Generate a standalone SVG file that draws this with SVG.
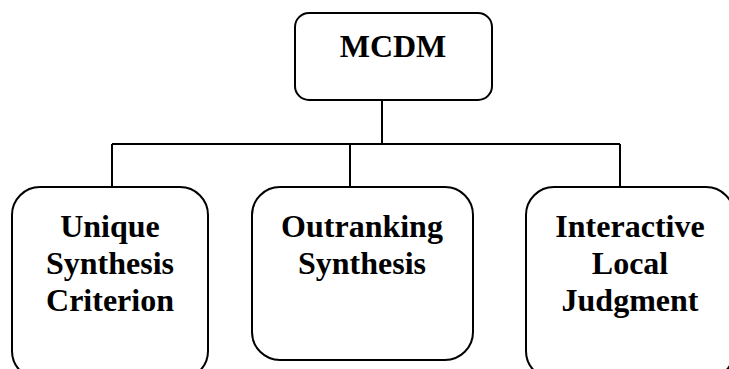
<svg xmlns="http://www.w3.org/2000/svg" width="729" height="369" viewBox="0 0 729 369">
<style>
.box{fill:#fff;stroke:#000;stroke-width:2}
.lbl{font-family:"Liberation Serif","Times New Roman",serif;font-weight:bold;font-size:32px;fill:#000;text-anchor:middle}
.conn{fill:none;stroke:#000;stroke-width:2}
</style>
<rect width="729" height="369" fill="#fff"/>
<g id="connectors">
<path class="conn" d="M382,100V144M112,144H620M112,144V187M350,144V187M620,144V187"/>
</g>
<g id="mcdm">
<rect class="box" x="295" y="13" width="197" height="87" rx="14"/>
<text class="lbl" x="393" y="57" font-size="28">MCDM</text>
</g>
<g id="unique">
<rect class="box" x="12" y="187" width="196" height="192" rx="28"/>
<text class="lbl" x="110" y="237">Unique</text>
<text class="lbl" x="110" y="274">Synthesis</text>
<text class="lbl" x="110" y="311">Criterion</text>
</g>
<g id="outranking">
<rect class="box" x="252" y="187" width="221" height="173" rx="28"/>
<text class="lbl" x="362" y="237">Outranking</text>
<text class="lbl" x="362" y="274">Synthesis</text>
</g>
<g id="interactive">
<rect class="box" x="526" y="187" width="208" height="192" rx="28"/>
<text class="lbl" x="630" y="237">Interactive</text>
<text class="lbl" x="630" y="274">Local</text>
<text class="lbl" x="630" y="311">Judgment</text>
</g>
</svg>
